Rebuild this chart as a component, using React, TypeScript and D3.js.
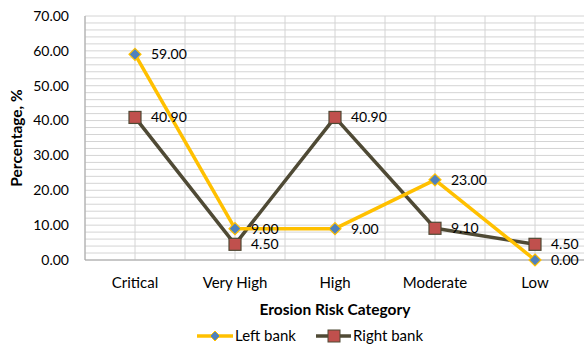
import React from "react";
import * as d3 from "d3";

const categories = ["Critical", "Very High", "High", "Moderate", "Low"];
const leftBank = [59.0, 9.0, 9.0, 23.0, 0.0];
const rightBank = [40.9, 4.5, 40.9, 9.1, 4.5];
const yTicks = [0, 10, 20, 30, 40, 50, 60, 70];

const W = 584;
const H = 348;
const M = { left: 85, right: 585, top: 16, bottom: 260 };
const FONT = "Lato, 'Open Sans', sans-serif";
const LEFT_COLOR = "#FFC000";
const RIGHT_COLOR = "#4F4A35";

export default function App() {
  const x = d3
    .scaleBand<string>()
    .domain(categories)
    .range([M.left, M.right]);
  const y = d3.scaleLinear().domain([0, 70]).range([M.bottom, M.top]);
  const cx = (c: string) => (x(c) ?? 0) + x.bandwidth() / 2;

  const minor = d3.range(0, 70.001, 2);
  const vLines: number[] = [];
  categories.forEach((c) => {
    vLines.push(x(c) ?? 0);
    vLines.push(cx(c));
  });
  vLines.push(M.right);

  const line = d3
    .line<number>()
    .x((_, i) => cx(categories[i]))
    .y((v) => y(v));

  const fmt = d3.format(".2f");

  return (
    <svg
      width={W}
      height={H}
      style={{ position: "absolute", left: 0, top: 0, background: "#fff" }}
      fontFamily={FONT}
    >
      {/* gridlines */}
      {minor.map((v) => (
        <line
          key={"h" + v}
          x1={M.left}
          x2={M.right}
          y1={y(v)}
          y2={y(v)}
          stroke="#D4D4D4"
          strokeWidth={1}
        />
      ))}
      {vLines.map((xv, i) => (
        <line
          key={"v" + i}
          x1={xv}
          x2={xv}
          y1={M.top}
          y2={M.bottom}
          stroke="#D4D4D4"
          strokeWidth={1}
        />
      ))}
      {/* axes */}
      <line x1={M.left} x2={M.left} y1={M.top} y2={M.bottom} stroke="#A6A6A6" />
      <line x1={M.left} x2={M.right} y1={M.bottom} y2={M.bottom} stroke="#A6A6A6" />

      {/* y tick labels */}
      {yTicks.map((t) => (
        <text
          key={"yt" + t}
          x={69}
          y={y(t)}
          dy="0.35em"
          textAnchor="end"
          fontSize={14}
          fill="#000"
        >
          {fmt(t)}
        </text>
      ))}
      {/* x tick labels */}
      {categories.map((c) => (
        <text key={"xt" + c} x={cx(c)} y={288} textAnchor="middle" fontSize={15} fill="#000">
          {c}
        </text>
      ))}

      {/* axis titles */}
      <text
        transform={`translate(22, ${(M.top + M.bottom) / 2}) rotate(-90)`}
        textAnchor="middle"
        fontSize={15.5}
        fontWeight="bold"
      >
        Percentage, %
      </text>
      <text x={335} y={315} textAnchor="middle" fontSize={15.5} fontWeight="bold">
        Erosion Risk Category
      </text>

      {/* series lines */}
      <path d={line(rightBank) ?? ""} fill="none" stroke={RIGHT_COLOR} strokeWidth={3.5} strokeLinejoin="round" />
      <path d={line(leftBank) ?? ""} fill="none" stroke={LEFT_COLOR} strokeWidth={3.5} strokeLinejoin="round" />

      {/* markers */}
      {rightBank.map((v, i) => (
        <rect
          key={"rm" + i}
          x={cx(categories[i]) - 6}
          y={y(v) - 6}
          width={12}
          height={12}
          fill="#C0504D"
          stroke={RIGHT_COLOR}
          strokeWidth={1.2}
        />
      ))}
      {leftBank.map((v, i) => {
        const px = cx(categories[i]);
        const py = y(v);
        return (
          <path
            key={"lm" + i}
            d={`M${px},${py - 6}L${px + 6},${py}L${px},${py + 6}L${px - 6},${py}Z`}
            fill="#4F81BD"
            stroke={LEFT_COLOR}
            strokeWidth={1.2}
          />
        );
      })}

      {/* data labels */}
      {leftBank.map((v, i) => (
        <text
          key={"ll" + i}
          x={cx(categories[i]) + 16}
          y={y(v)}
          dy="0.35em"
          fontSize={14}
          fill="#000"
        >
          {fmt(v)}
        </text>
      ))}
      {rightBank.map((v, i) => (
        <text
          key={"rl" + i}
          x={cx(categories[i]) + 16}
          y={y(v)}
          dy="0.35em"
          fontSize={14}
          fill="#000"
        >
          {fmt(v)}
        </text>
      ))}

      {/* legend */}
      <g transform="translate(0, 336)">
        <line x1={197} x2={233} y1={0} y2={0} stroke={LEFT_COLOR} strokeWidth={3.5} />
        <path d="M215,-5L220,0L215,5L210,0Z" fill="#4F81BD" stroke={LEFT_COLOR} strokeWidth={1} />
        <text x={235} y={0} dy="0.35em" fontSize={15}>
          Left bank
        </text>
        <line x1={316} x2={351} y1={0} y2={0} stroke={RIGHT_COLOR} strokeWidth={3.5} />
        <rect x={328} y={-6} width={12} height={12} fill="#C0504D" stroke={RIGHT_COLOR} strokeWidth={1} />
        <text x={353} y={0} dy="0.35em" fontSize={15}>
          Right bank
        </text>
      </g>
    </svg>
  );
}
